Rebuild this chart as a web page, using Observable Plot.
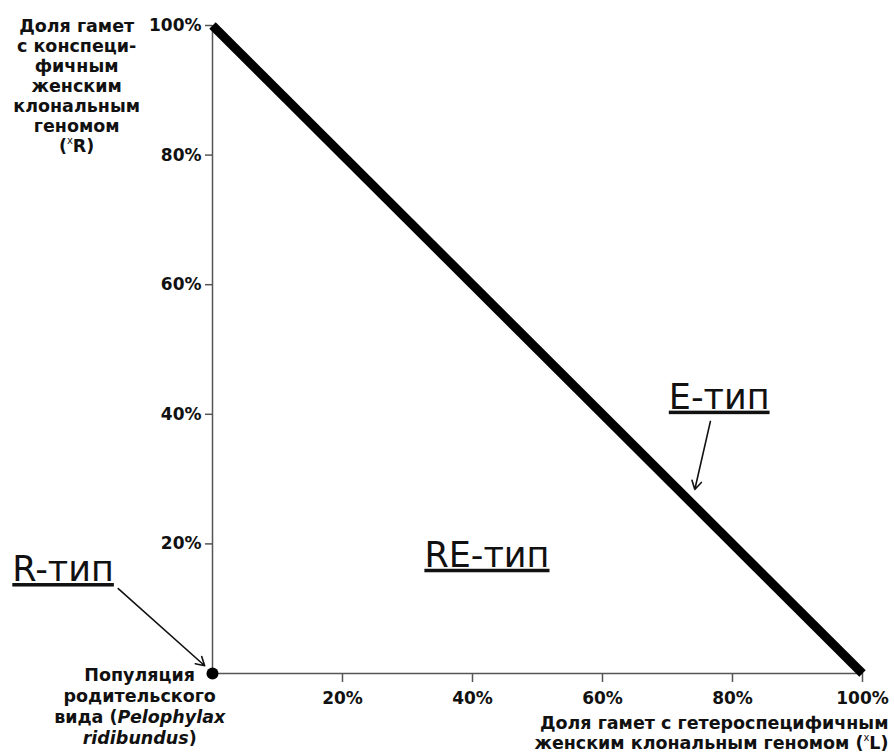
<!DOCTYPE html>
<html><head><meta charset="utf-8">
<script src="https://cdn.jsdelivr.net/npm/d3@7"></script>
<script src="https://cdn.jsdelivr.net/npm/@observablehq/plot@0.6"></script>
<style>
body{margin:0;background:#fff;}
#chart svg{font-family:"DejaVu Sans",sans-serif;}
</style>
</head><body><div id="chart"></div>
<script>
// Main relation: share of conspecific (ˣR) vs heterospecific (ˣL) gametes
const lineX = [0, 100];
const lineY = [100, 0];
// parental population point
const pointX = [0];
const pointY = [0];
const ticks = [20, 40, 60, 80, 100];

// annotation labels
const annoText = ["R-тип", "RE-тип", "E-тип"];
const annoX = [-30.8, 32.6, 70.2];
const annoY = [16.0, 18.2, 42.6];

// arrows (from label to target)
const arrowX1 = [-14.5, 76.6];
const arrowY1 = [13.1, 38.9];
const arrowX2 = [-1.2, 74.2];
const arrowY2 = [1.2, 28.4];

const yTitle = "Доля гамет\nс конспеци-\nфичным\nженским\nклональным\nгеномом\n(ˣR)";
const xTitle = "Доля гамет с гетероспецифичным\nженским клональным геномом (ˣL)";
const originLabel = "Популяция\nродительского\nвида (Pelophylax\nridibundus)";

const lineData = lineX.map((x, i) => ({x, y: lineY[i]}));
const pointData = pointX.map((x, i) => ({x, y: pointY[i]}));
const annoData = annoText.map((t, i) => ({t, x: annoX[i], y: annoY[i]}));
const arrowData = arrowX1.map((x1, i) => ({x1, y1: arrowY1[i], x2: arrowX2[i], y2: arrowY2[i]}));

const plot = Plot.plot({
  width: 894,
  height: 754,
  marginLeft: 212,
  marginRight: 32,
  marginTop: 25,
  marginBottom: 81,
  x: {domain: [0, 100]},
  y: {domain: [0, 100]},
  style: {fontFamily: "DejaVu Sans, sans-serif", color: "#111", background: "#fff"},
  marks: [
    Plot.axisX({ticks, tickFormat: d => d + "%", tickSize: 9, tickPadding: 9, fontSize: 17, fontWeight: "bold", stroke: "#555", strokeWidth: 1.5, label: null}),
    Plot.axisY({ticks, tickFormat: d => d + "%", tickSize: 7, tickPadding: 4, fontSize: 17, fontWeight: "bold", stroke: "#555", strokeWidth: 1.5, label: null}),
    Plot.ruleX([0], {stroke: "#555", strokeWidth: 1.5}),
    Plot.ruleY([0], {stroke: "#555", strokeWidth: 1.5}),
    Plot.line(lineData, {x: "x", y: "y", stroke: "#000", strokeWidth: 9, strokeLinecap: "butt"}),
    Plot.dot(pointData, {x: "x", y: "y", r: 6, fill: "#000"}),
    Plot.arrow(arrowData, {x1: "x1", y1: "y1", x2: "x2", y2: "y2", stroke: "#111", strokeWidth: 1.6, headLength: 9, insetEnd: 0}),
    Plot.text(annoData, {x: "x", y: "y", text: "t", textAnchor: "start", fontSize: 35, fill: "#111"}),
    Plot.text([yTitle], {x: -20.9, y: 100, text: d => d, textAnchor: "middle", lineAnchor: "middle", fontSize: 17.5, fontWeight: "bold", lineHeight: 1.15, fill: "#111", dy: 60}),
    Plot.text([originLabel], {x: -11.2, y: 0, text: d => d, textAnchor: "middle", lineAnchor: "top", fontSize: 17.5, fontWeight: "bold", lineHeight: 1.19, fill: "#111", dy: -7}),
    Plot.text([xTitle], {x: 104, y: 0, text: d => d, textAnchor: "end", lineAnchor: "top", fontSize: 17.5, fontWeight: "bold", lineHeight: 1.12, fill: "#111", dy: 42})
  ]
});
document.getElementById("chart").appendChild(plot);

// Post-process: underline type labels, italicise species name, raise the superscript x
const svgns = "http://www.w3.org/2000/svg";
function tsp(txt, attrs) {
  const el = document.createElementNS(svgns, "tspan");
  for (const k in attrs) el.setAttribute(k, attrs[k]);
  el.textContent = txt;
  return el;
}
plot.querySelectorAll("text").forEach(t => {
  if (annoText.includes(t.textContent)) t.setAttribute("text-decoration", "underline");
});
plot.querySelectorAll("tspan").forEach(ts => {
  const s = ts.textContent;
  if (s === "вида (Pelophylax") {
    ts.textContent = "вида (";
    ts.appendChild(tsp("Pelophylax", {"font-style": "italic"}));
  } else if (s === "ridibundus)") {
    ts.textContent = "";
    ts.appendChild(tsp("ridibundus", {"font-style": "italic"}));
    ts.appendChild(document.createTextNode(")"));
  } else if (s.includes("ˣ")) {
    const [a, b] = s.split("ˣ");
    ts.textContent = a;
    ts.appendChild(tsp("x", {"font-size": "10", "dy": "-8", "font-weight": "normal"}));
    ts.appendChild(tsp(b, {"dy": "8"}));
  }
});
</script>
</body></html>
